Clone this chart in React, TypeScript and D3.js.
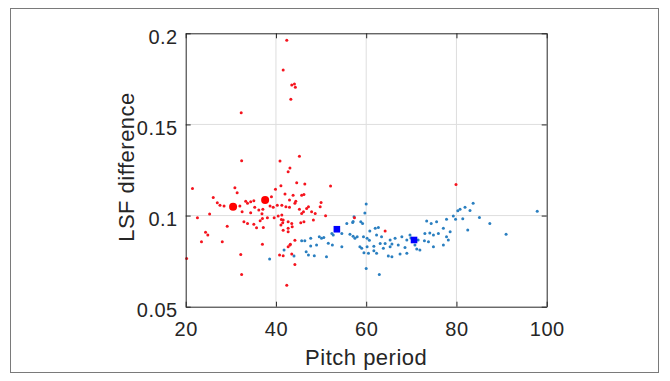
import * as d3 from "d3"
import { useEffect, useRef } from "react"

// pitch period / LSF difference pairs
const redPitch = [
  42.4, 41.6, 43.5, 44.1, 44.3, 43.3, 32.3, 32.4, 40.9, 45.2, 43.1, 42.7, 21.5, 30.9, 31.4, 26.1,
  27.0, 27.6, 28.5, 32.0, 33.3, 33.7, 34.4, 35.1, 39.0, 39.9, 41.1, 35.3, 36.2, 37.1, 38.7, 39.4,
  40.3, 32.5, 34.4, 25.3, 22.6, 37.0, 36.5, 38.1, 39.6, 40.5, 41.2, 32.9, 33.7, 35.1, 35.7, 37.2,
  29.2, 24.4, 24.9, 23.5, 28.1, 37.0, 41.5, 20.2, 32.2, 32.4, 40.8, 41.6, 42.4, 44.2, 43.2, 42.7,
  43.5, 44.6, 46.4, 52.1, 42.0, 43.8, 45.7, 43.0, 44.4, 44.2, 47.2, 46.8, 50.0, 49.8, 41.3, 42.2,
  43.0, 45.2, 45.7, 46.1, 47.9, 48.7, 51.0, 48.3, 41.3, 41.6, 42.7, 43.5, 45.5, 46.2, 41.1, 42.7,
  43.6, 41.6, 42.7, 44.2, 43.1, 57.4, 64.2, 79.9, 46.2, 36.9,
]
const redLsf = [
  0.1962, 0.1799, 0.1716, 0.1722, 0.1704, 0.1638, 0.1564, 0.1301, 0.1299, 0.1325, 0.1261, 0.124,
  0.1148, 0.1152, 0.1125, 0.1099, 0.107, 0.1056, 0.1052, 0.1052, 0.1079, 0.1067, 0.1076, 0.1081,
  0.1103, 0.1144, 0.1163, 0.1045, 0.103, 0.1034, 0.1052, 0.1045, 0.1057, 0.1021, 0.1015, 0.1008,
  0.0988, 0.0984, 0.0971, 0.0988, 0.0988, 0.0997, 0.0979, 0.0966, 0.0957, 0.0953, 0.0933, 0.0935,
  0.0942, 0.0909, 0.0893, 0.0857, 0.0857, 0.0843, 0.096, 0.0764, 0.0787, 0.0676, 0.0783, 0.0779,
  0.0618, 0.0732, 0.0843, 0.0829, 0.0789, 0.118, 0.1173, 0.1162, 0.1118, 0.1112, 0.1112, 0.1085,
  0.1079, 0.1067, 0.1048, 0.1039, 0.1072, 0.1048, 0.1057, 0.1048, 0.1045, 0.1034, 0.1012, 0.1021,
  0.1021, 0.1012, 0.0999, 0.0975, 0.1003, 0.0975, 0.0966, 0.0957, 0.096, 0.0966, 0.0948, 0.093,
  0.0938, 0.092, 0.0911, 0.0865, 0.0838, 0.0988, 0.0916, 0.117, 0.1116, 0.101,
]
const bluePitch = [
  38.6, 41.8, 44.0, 60.0, 59.7, 55.7, 57.0, 58.8, 59.2, 60.8, 62.0, 52.4, 52.7, 56.4, 57.1, 54.6,
  49.6, 50.1, 50.6, 51.6, 52.5, 47.7, 45.7, 46.4, 57.5, 58.0, 59.4, 60.2, 60.7, 54.6, 58.6, 59.0,
  60.2, 61.7, 49.0, 63.1, 46.7, 47.2, 48.5, 47.7, 51.2, 59.5, 60.5, 61.7, 60.0, 62.9, 62.7, 73.4,
  74.4, 75.6, 77.8, 79.3, 80.3, 80.8, 81.9, 83.7, 83.0, 81.4, 85.1, 87.4, 82.5, 91.0, 97.9, 79.8,
  73.0, 74.1, 74.9, 76.0, 77.1, 78.6, 77.8, 67.9, 69.0, 69.7, 65.3, 66.4, 63.4, 62.3, 71.5, 72.9,
  73.8, 77.1, 70.8, 64.2, 65.3, 67.1, 68.6, 64.9, 65.7, 67.5, 69.0, 62.3, 63.8, 74.9, 78.2, 71.2,
  71.9, 65.7, 69.9, 57.3, 57.1,
]
const blueLsf = [
  0.0762, 0.0811, 0.0778, 0.1064, 0.1014, 0.0957, 0.0962, 0.0966, 0.0957, 0.0916, 0.093, 0.0902,
  0.0893, 0.0898, 0.0887, 0.0902, 0.0884, 0.0875, 0.088, 0.0848, 0.0838, 0.0875, 0.0862, 0.0862,
  0.0875, 0.0884, 0.0884, 0.0875, 0.0865, 0.0829, 0.0829, 0.082, 0.0829, 0.0832, 0.0838, 0.0847,
  0.0801, 0.0783, 0.0779, 0.0833, 0.0774, 0.0796, 0.0793, 0.0807, 0.071, 0.0676, 0.0935, 0.097,
  0.0957, 0.0966, 0.098, 0.0998, 0.1027, 0.1035, 0.1045, 0.1067, 0.1028, 0.0982, 0.0989, 0.0957,
  0.0921, 0.0897, 0.1023, 0.098, 0.0902, 0.0905, 0.0893, 0.0902, 0.093, 0.0911, 0.0884, 0.0884,
  0.0866, 0.0893, 0.0866, 0.0875, 0.0884, 0.0893, 0.0866, 0.0862, 0.0856, 0.0838, 0.0838, 0.0847,
  0.0829, 0.0838, 0.0825, 0.0778, 0.0774, 0.0789, 0.0793, 0.0793, 0.082, 0.0829, 0.0866, 0.0816,
  0.0811, 0.0844, 0.0877, 0.0994, 0.0967,
]
// cluster centres (big markers)
const redCentrePitch = [30.5, 37.6]
const redCentreLsf = [0.1049, 0.1086]
const blueCentrePitch = [53.5, 70.6]
const blueCentreLsf = [0.0925, 0.0866]

const xTicks = [20, 40, 60, 80, 100]
const yTicks = [0.05, 0.1, 0.15, 0.2]

const App = () => {
  const ref = useRef<SVGSVGElement>(null)
  const width = 670
  const height = 381

  useEffect(() => {
    const margin = { top: 33.3, right: 123.3, bottom: 74.3, left: 185.7 }
    const innerWidth = width - margin.left - margin.right
    const innerHeight = height - margin.top - margin.bottom
    const font = "'Liberation Sans', Arial, sans-serif"

    const svg = d3.select(ref.current)
    svg.selectAll("*").remove()

    // outer frame
    svg
      .append("rect")
      .attr("x", 10.5)
      .attr("y", 8.5)
      .attr("width", 648)
      .attr("height", 364)
      .attr("fill", "white")
      .attr("stroke", "#7a7a7a")
      .attr("stroke-width", 1)

    const g = svg.append("g").attr("transform", `translate(${margin.left},${margin.top})`)

    const x = d3.scaleLinear().domain([20, 100]).range([0, innerWidth])
    const y = d3.scaleLinear().domain([0.05, 0.2]).range([innerHeight, 0])

    // grid
    g.append("g")
      .selectAll("line")
      .data(xTicks.slice(1, -1))
      .enter()
      .append("line")
      .attr("x1", (d) => x(d))
      .attr("x2", (d) => x(d))
      .attr("y1", 0)
      .attr("y2", innerHeight)
      .attr("stroke", "#dedede")
    g.append("g")
      .selectAll("line")
      .data(yTicks.slice(1, -1))
      .enter()
      .append("line")
      .attr("y1", (d) => y(d))
      .attr("y2", (d) => y(d))
      .attr("x1", 0)
      .attr("x2", innerWidth)
      .attr("stroke", "#dedede")

    // points
    const red = redPitch.map((p, i) => ({ p, v: redLsf[i] }))
    const blue = bluePitch.map((p, i) => ({ p, v: blueLsf[i] }))

    g.append("g")
      .selectAll("circle")
      .data(blue)
      .enter()
      .append("circle")
      .attr("cx", (d) => x(d.p))
      .attr("cy", (d) => y(d.v))
      .attr("r", 1.5)
      .attr("fill", "#2a7fc0")

    g.append("g")
      .selectAll("circle")
      .data(red)
      .enter()
      .append("circle")
      .attr("cx", (d) => x(d.p))
      .attr("cy", (d) => y(d.v))
      .attr("r", 1.5)
      .attr("fill", "#f5141e")

    g.append("g")
      .selectAll("circle")
      .data(redCentrePitch.map((p, i) => ({ p, v: redCentreLsf[i] })))
      .enter()
      .append("circle")
      .attr("cx", (d) => x(d.p))
      .attr("cy", (d) => y(d.v))
      .attr("r", 4)
      .attr("fill", "#ff0000")

    g.append("g")
      .selectAll("rect")
      .data(blueCentrePitch.map((p, i) => ({ p, v: blueCentreLsf[i] })))
      .enter()
      .append("rect")
      .attr("x", (d) => x(d.p) - 3.3)
      .attr("y", (d) => y(d.v) - 3.3)
      .attr("width", 6.6)
      .attr("height", 6.6)
      .attr("fill", "#0000ff")

    // axes (box with inward ticks)
    const axisColor = "#262626"
    const bottom = g
      .append("g")
      .attr("transform", `translate(0,${innerHeight})`)
      .call(d3.axisBottom(x).tickValues(xTicks).tickSizeInner(-5).tickSizeOuter(0).tickPadding(15))
    const top = g
      .append("g")
      .call(d3.axisTop(x).tickValues(xTicks).tickSizeInner(-5).tickSizeOuter(0).tickFormat(() => ""))
    const left = g
      .append("g")
      .call(
        d3
          .axisLeft(y)
          .tickValues(yTicks)
          .tickSizeInner(-5)
          .tickSizeOuter(0)
          .tickPadding(8)
          .tickFormat((d) => String(+d))
      )
    const right = g
      .append("g")
      .attr("transform", `translate(${innerWidth},0)`)
      .call(d3.axisRight(y).tickValues(yTicks).tickSizeInner(-5).tickSizeOuter(0).tickFormat(() => ""))

    ;[bottom, top, left, right].forEach((a) => {
      a.selectAll("path").attr("stroke", axisColor)
      a.selectAll("line").attr("stroke", axisColor)
      a.selectAll("text")
        .attr("fill", "#262626")
        .style("font-size", "20px")
        .style("letter-spacing", "0.5px")
        .style("font-family", font)
    })
    left.selectAll("text").attr("dy", "0.5em")

    g.append("text")
      .attr("x", innerWidth / 2)
      .attr("y", innerHeight + 58)
      .attr("text-anchor", "middle")
      .attr("fill", "#262626")
      .style("font-size", "22px")
      .style("letter-spacing", "0.5px")
      .style("font-family", font)
      .text("Pitch period")

    g.append("text")
      .attr("transform", `translate(${-52},${innerHeight / 2 - 3}) rotate(-90)`)
      .attr("text-anchor", "middle")
      .attr("fill", "#262626")
      .style("font-size", "22px")
      .style("letter-spacing", "0.5px")
      .style("font-family", font)
      .text("LSF difference")
  }, [])

  return (
    <svg
      ref={ref}
      width={width}
      height={height}
      style={{ position: "absolute", left: 0, top: 0, background: "white" }}
    ></svg>
  )
}

export default App
